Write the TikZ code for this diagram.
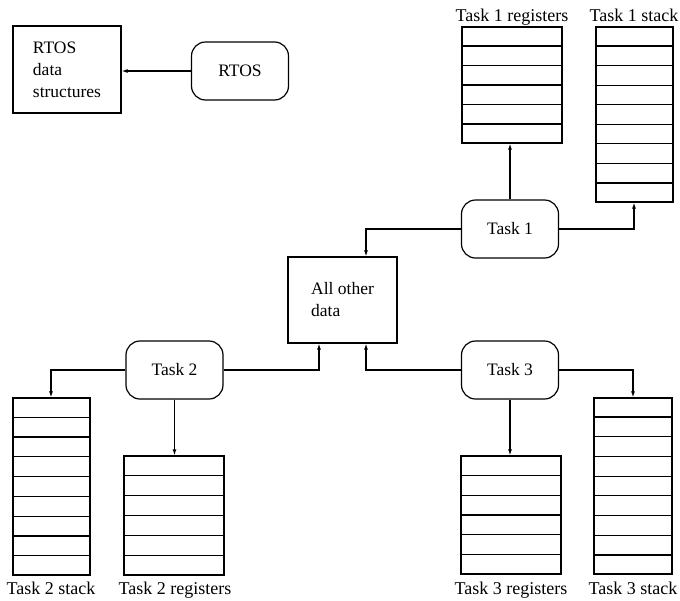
\documentclass[tikz,border=0pt]{standalone}
\usepackage{fontspec}
\setmainfont{Liberation Serif}
\usetikzlibrary{arrows.meta,calc}
\tikzset{
  base/.style={draw, line width=1.2pt, inner sep=0pt, align=left},
  roundbox/.style={base, align=center, rounded corners=14pt, minimum width=97pt, minimum height=58pt},
  squarebox/.style={base},
  mem/.style={draw, line width=1.2pt, inner sep=0pt},
  conn/.style={line width=1.2pt, -{Latex[length=6pt,width=4pt]}},
  lbl/.style={inner sep=0pt, font=\fontsize{18}{22}\selectfont}
}
\newcommand{\memblock}[6]{%
  \node[mem, minimum width={#4-#2}, minimum height={#5-#3}] (#1) at ({(#2+#4)/2},{(#3+#5)/2}) {};
  \foreach \i in {1,...,\numexpr#6-1\relax}{
    \draw[line width=1.2pt] ($(#1.north west)!\i/#6!(#1.south west)$) -- ($(#1.north east)!\i/#6!(#1.south east)$);
  }%
}
\begin{document}
\begin{tikzpicture}[x=1pt,y=-1pt, font=\fontsize{17.5}{22}\selectfont]
\useasboundingbox (0,0) rectangle (680,600);
% top left
\node[squarebox, minimum width=108pt, minimum height=87pt] (rds) at (67,69.5) {RTOS\\data\\structures};
\node[roundbox] (rtos) at (240,71) {RTOS};
\draw[conn] (rtos.west) -- (rtos.west -| rds.east);
% central
\node[squarebox, minimum width=109pt, minimum height=86pt] (all) at (342.5,300) {All other\\data};
% tasks
\node[roundbox] (t1) at (510,229) {Task 1};
\node[roundbox] (t2) at (174.5,370) {Task 2};
\node[roundbox] (t3) at (510,370) {Task 3};
% memory blocks
\memblock{t1r}{462}{27}{562}{143}{6}
\memblock{t1s}{596}{27}{673}{202}{9}
\memblock{t2s}{13}{398}{90}{575}{9}
\memblock{t2r}{124}{456}{224}{575}{6}
\memblock{t3r}{461}{456}{561}{574}{6}
\memblock{t3s}{594}{398}{672}{574}{9}
% labels
\node[lbl, anchor=base] (l1r) at (512,21) {Task 1 registers};
\node[lbl, anchor=base] (l1s) at (634,21) {Task 1 stack};
\node[lbl, anchor=base] (l2s) at (51,594) {Task 2 stack};
\node[lbl, anchor=base] (l2r) at (175,594) {Task 2 registers};
\node[lbl, anchor=base] (l3r) at (511,594) {Task 3 registers};
\node[lbl, anchor=base] (l3s) at (633,594) {Task 3 stack};
% connectors
\coordinate (a1) at (366,229);
\draw[conn] (t1.west) -- (a1) -- (a1 |- all.north);
\draw[conn] (t1.north) -- (t1.north |- t1r.south);
\coordinate (a2) at (634,229);
\draw[conn] (t1.east) -- (a2) -- (a2 |- t1s.south);
\coordinate (a3) at (319,370);
\draw[conn] (t2.east) -- (a3) -- (a3 |- all.south);
\coordinate (a4) at (51,370);
\draw[conn] (t2.west) -- (a4) -- (a4 |- t2s.north);
\draw[conn] (t2.south) -- (t2.south |- t2r.north);
\coordinate (a5) at (366,370);
\draw[conn] (t3.west) -- (a5) -- (a5 |- all.south);
\coordinate (a6) at (633,370);
\draw[conn] (t3.east) -- (a6) -- (a6 |- t3s.north);
\draw[conn] (t3.south) -- (t3.south |- t3r.north);
\end{tikzpicture}
\end{document}
